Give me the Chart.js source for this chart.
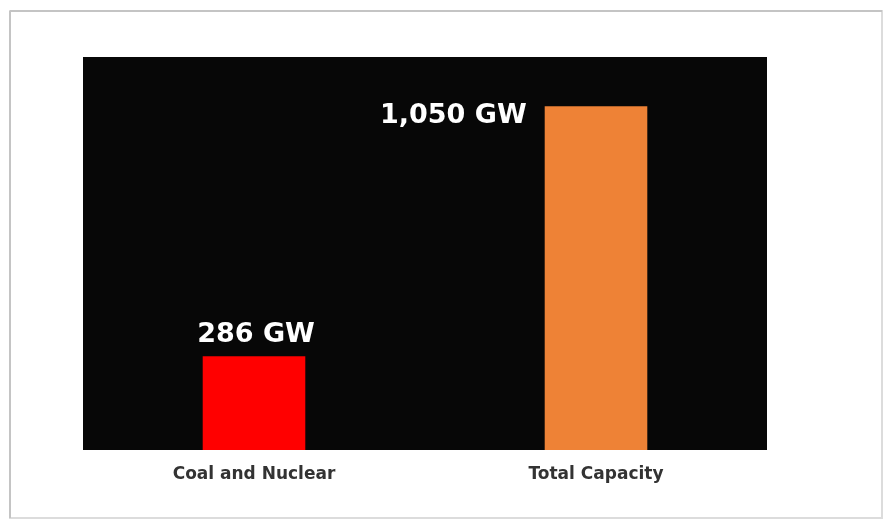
<!DOCTYPE html>
<html>
<head>
<meta charset="utf-8">
<script src="https://cdn.jsdelivr.net/npm/chart.js@4.4.1/dist/chart.umd.min.js"></script>
<style>
  html, body { margin: 0; padding: 0; background: #ffffff; }
  #wrap { width: 888px; height: 520px; position: relative; }
</style>
</head>
<body>
<div id="wrap"><canvas id="c" width="888" height="520"></canvas></div>
<script>
const categories = ["Coal and Nuclear", "Total Capacity"];
const capacityGW = [286, 1050];
const valueLabels = ["286 GW", "1,050 GW"];
const barColors = ["#FF0000", "#EE8236"];

const framePlugin = {
  id: 'frame',
  beforeDraw(chart) {
    const ctx = chart.ctx;
    const a = chart.chartArea;
    ctx.save();
    ctx.fillStyle = '#ffffff';
    ctx.fillRect(0, 0, chart.width, chart.height);
    ctx.strokeStyle = '#dcdcdc';
    ctx.lineWidth = 2;
    ctx.strokeRect(10, 11, 872, 507);
    ctx.strokeStyle = '#c4c4c4';
    ctx.beginPath();
    ctx.moveTo(10, 11); ctx.lineTo(10, 518);
    ctx.moveTo(10, 11); ctx.lineTo(882, 11);
    ctx.stroke();
    ctx.fillStyle = '#070707';
    ctx.fillRect(a.left, a.top, a.right - a.left, a.bottom - a.top);
    ctx.restore();
  }
};

const labelPlugin = {
  id: 'valueLabels',
  afterDatasetsDraw(chart) {
    const ctx = chart.ctx;
    const meta = chart.getDatasetMeta(0);
    ctx.save();
    ctx.fillStyle = '#ffffff';
    ctx.font = 'bold 27px "DejaVu Sans"';
    ctx.textBaseline = 'alphabetic';
    meta.data.forEach((bar, i) => {
      if (i === 0) {
        ctx.textAlign = 'center';
        ctx.fillText(valueLabels[i], bar.x + 2, bar.y - 14);
      } else {
        ctx.textAlign = 'right';
        ctx.fillText(valueLabels[i], bar.x - bar.width / 2 - 18, bar.y + 17);
      }
    });
    ctx.restore();
  }
};

new Chart(document.getElementById('c'), {
  type: 'bar',
  data: {
    labels: categories,
    datasets: [{
      data: capacityGW,
      backgroundColor: barColors,
      borderWidth: 0,
      barPercentage: 0.3,
      categoryPercentage: 1.0
    }]
  },
  options: {
    responsive: false,
    animation: false,
    devicePixelRatio: 1,
    layout: { padding: { left: 83, right: 121, top: 57, bottom: 0 } },
    plugins: {
      legend: { display: false },
      tooltip: { enabled: false },
      title: { display: false }
    },
    scales: {
      x: {
        grid: { display: false, drawTicks: false },
        border: { display: false },
        ticks: {
          color: '#333333',
          font: { family: '"DejaVu Sans"', weight: 'bold', size: 17 },
          padding: 14,
          maxRotation: 0
        },
        afterFit(scale) { scale.height = 70; }
      },
      y: {
        display: false,
        min: 0,
        max: 1200
      }
    }
  },
  plugins: [framePlugin, labelPlugin]
});
</script>
</body>
</html>
